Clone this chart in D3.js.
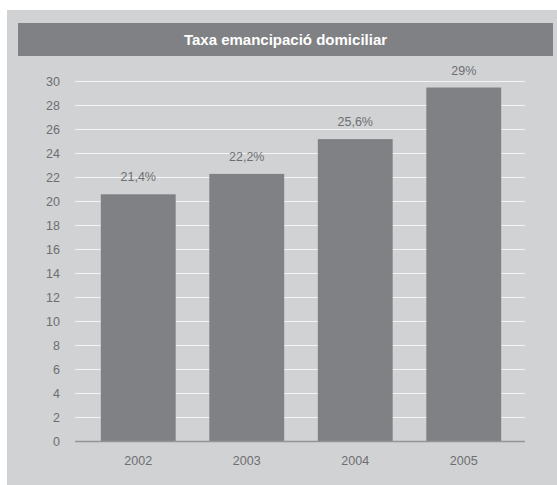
<!DOCTYPE html>
<html>
<head>
<meta charset="utf-8">
<script src="https://cdn.jsdelivr.net/npm/d3@7"></script>
<style>
  body { margin: 0; background: #fff; }
  svg { display: block; font-family: "Liberation Sans", Arial, sans-serif; }
</style>
</head>
<body>
<script>
// dades
const years = ["2002", "2003", "2004", "2005"];
const values = [20.6, 22.3, 25.2, 29.5];
const valueLabels = ["21,4%", "22,2%", "25,6%", "29%"];
const yTicks = [0, 2, 4, 6, 8, 10, 12, 14, 16, 18, 20, 22, 24, 26, 28, 30];
const title = "Taxa emancipació domiciliar";

const width = 557, height = 485;

const svg = d3.select("body").append("svg")
    .attr("width", width)
    .attr("height", height);

// fons
svg.append("rect")
    .attr("x", 7).attr("y", 10)
    .attr("width", width - 7).attr("height", height - 10)
    .attr("fill", "#d1d2d4");

// barra del títol
svg.append("rect")
    .attr("x", 18).attr("y", 23)
    .attr("width", 535).attr("height", 33)
    .attr("fill", "#808184");

svg.append("text")
    .attr("x", 285.5).attr("y", 45)
    .attr("text-anchor", "middle")
    .attr("fill", "#fff")
    .style("font-weight", "bold")
    .style("font-size", "15px")
    .text(title);

// escales
const x = d3.scaleBand()
    .domain(years)
    .range([84, 518])
    .paddingInner(0.31)
    .paddingOuter(0.155);

const y = d3.scaleLinear()
    .domain([0, 30])
    .range([441.5, 81.5]);

// línies de la graella
svg.append("g")
    .selectAll("line")
    .data(yTicks.filter(d => d > 0))
    .enter()
    .append("line")
    .attr("x1", 75).attr("x2", 525)
    .attr("y1", d => y(d)).attr("y2", d => y(d))
    .attr("stroke", "#f4f4f5")
    .attr("stroke-width", 1.2);

// etiquetes eix y
svg.append("g")
    .selectAll("text")
    .data(yTicks)
    .enter()
    .append("text")
    .attr("x", 60)
    .attr("y", d => y(d) + 4.5)
    .attr("text-anchor", "end")
    .attr("fill", "#6d6e71")
    .style("font-size", "12.5px")
    .text(d => d);

// barres
svg.append("g")
    .selectAll("rect")
    .data(values)
    .enter()
    .append("rect")
    .attr("x", (d, i) => x(years[i]))
    .attr("y", d => y(d))
    .attr("width", x.bandwidth())
    .attr("height", d => y(0) - y(d))
    .attr("fill", "#808184");

// línia base
svg.append("line")
    .attr("x1", 75).attr("x2", 525)
    .attr("y1", y(0)).attr("y2", y(0))
    .attr("stroke", "#939598")
    .attr("stroke-width", 1.5);

// valors sobre les barres
svg.append("g")
    .selectAll("text")
    .data(values)
    .enter()
    .append("text")
    .attr("x", (d, i) => x(years[i]) + x.bandwidth() / 2)
    .attr("y", d => y(d) - 13)
    .attr("text-anchor", "middle")
    .attr("fill", "#6d6e71")
    .style("font-size", "12.5px")
    .text((d, i) => valueLabels[i]);

// anys
svg.append("g")
    .selectAll("text")
    .data(years)
    .enter()
    .append("text")
    .attr("x", d => x(d) + x.bandwidth() / 2)
    .attr("y", 465)
    .attr("text-anchor", "middle")
    .attr("fill", "#6d6e71")
    .style("font-size", "12.5px")
    .text(d => d);
</script>
</body>
</html>
